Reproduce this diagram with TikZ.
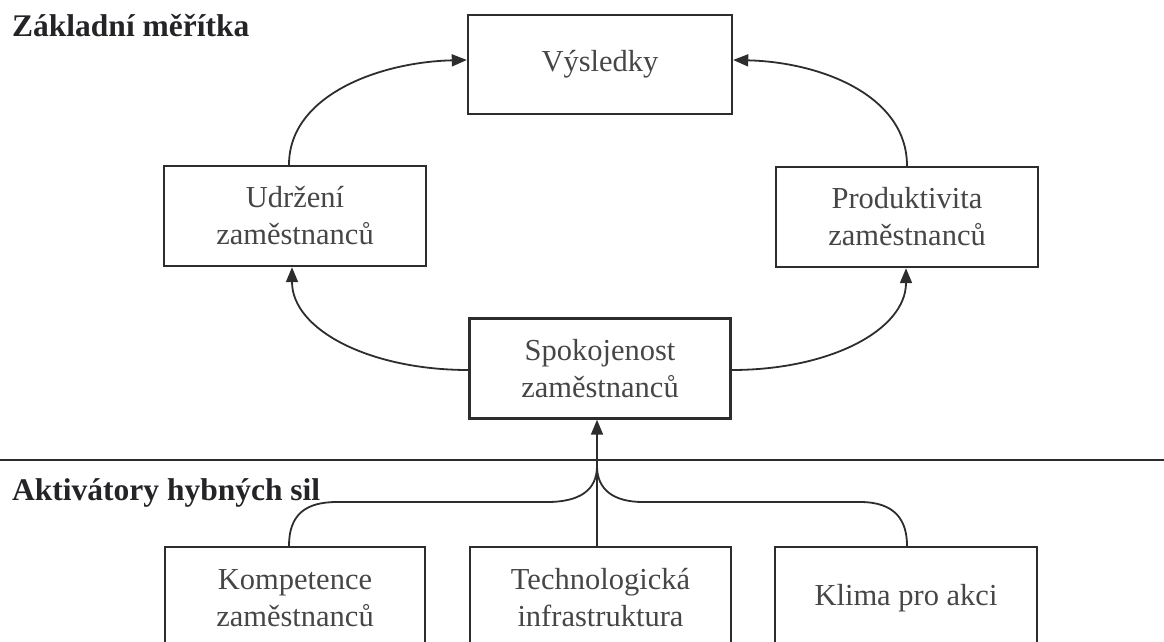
\documentclass[tikz,border=0pt]{standalone}
\usepackage{fontspec}
\setmainfont{Liberation Serif}
\usetikzlibrary{arrows.meta,calc}

\definecolor{ink}{RGB}{45,45,45}
\definecolor{txt}{RGB}{70,70,70}
\definecolor{head}{RGB}{35,35,40}

\tikzset{
  box/.style={draw=ink, line width=2.4pt, rectangle, minimum width=262pt,
    minimum height=100pt, align=center, text=txt, inner sep=0pt,
    font=\fontsize{30.5}{37}\selectfont},
  heading/.style={anchor=base west, inner sep=0pt, text=head,
    font=\fontsize{31.5}{37}\selectfont\bfseries},
  link/.style={draw=ink, line width=1.8pt},
  arr/.style={link, -{Triangle[length=15pt,width=12pt]}},
  rule/.style={draw=ink, line width=2.2pt}
}

\begin{document}
\begin{tikzpicture}[x=1pt,y=-1pt]
\useasboundingbox (0,0) rectangle (1164,642);
\clip (0,0) rectangle (1164,642);

% headings and the dividing rule
\node[heading] (hTop) at (12,37) {Základní měřítka};
\node[heading] (hBot) at (12,500) {Aktivátory hybných sil};
\coordinate (ruleL) at (0,460);
\coordinate (ruleR) at (1164,460);
\draw[rule] (ruleL) -- (ruleR);

% upper cycle
\node[box, minimum width=264pt, minimum height=99pt] (vys) at (600,64.5) {Výsledky};
\node[box] (udr) at (295,216) {Udržení\\zaměstnanců};
\node[box] (pro) at (907,217) {Produktivita\\zaměstnanců};
\node[box, minimum width=261pt] (spo) at (600,368.5) {Spokojenost\\zaměstnanců};

% lower drivers (boxes run past the bottom edge)
\node[box, minimum width=260pt, minimum height=102pt] (kom) at (295,598) {Kompetence\\zaměstnanců};
\node[box, minimum width=261pt, minimum height=102pt] (tech) at (600.5,598) {Technologická\\infrastruktura};
\node[box, minimum width=262pt, minimum height=102pt] (kli) at (906,598) {Klima pro akci};

% arcs of the upper cycle
\draw[arr] ([xshift=-6pt]udr.north) .. controls (289,95) and (380,62) .. ([yshift=4.5pt]vys.west);
\draw[arr] (pro.north) .. controls (907,95) and (820,62) .. ([yshift=4.5pt]vys.east);
\draw[arr] ([yshift=-1.5pt]spo.west) .. controls (370,370) and (292,330) .. ([xshift=-3pt]udr.south);
\draw[arr] ([yshift=-1.5pt]spo.east) .. controls (830,370) and (906,330) .. ([xshift=-1pt]pro.south);

% drivers feeding satisfaction
\coordinate (join) at (597,466);
\draw[arr] ([xshift=-3.5pt]tech.north) -- ([xshift=-3pt]spo.south);
\draw[link] ([xshift=-6pt]kom.north) .. controls (289,515) and (305,502) .. (337,502)
  -- (547,502) .. controls (580,502) and (597,490) .. (join);
\draw[link] (join) .. controls (597,490) and (614,502) .. (643,502)
  -- (860,502) .. controls (895,502) and (907,520) .. ([xshift=1pt]kli.north);
\end{tikzpicture}
\end{document}
